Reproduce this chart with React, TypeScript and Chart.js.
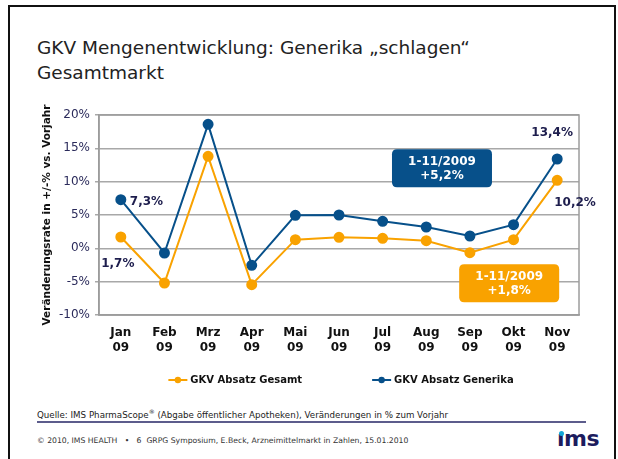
import React, { useEffect, useRef } from "react";
import { Chart, registerables } from "chart.js";

Chart.register(...registerables);

// ---- data ----
const months = ["Jan", "Feb", "Mrz", "Apr", "Mai", "Jun", "Jul", "Aug", "Sep", "Okt", "Nov"];
const yearLabel = "09";
const gesamt = [1.7, -5.2, 13.8, -5.45, 1.3, 1.65, 1.5, 1.15, -0.65, 1.3, 10.2];
const generika = [7.3, -0.7, 18.6, -2.55, 4.95, 5.0, 4.05, 3.2, 1.85, 3.55, 13.4];
const seriesNames = ["GKV Absatz Gesamt", "GKV Absatz Generika"];
const yMin = -10;
const yMax = 20;
const yStep = 5;
const yTitle = "Veränderungsrate in +/-% vs. Vorjahr";
const pointLabelTexts = ["7,3%", "1,7%", "13,4%", "10,2%"];
const summaryTexts = [
  ["1-11/2009", "+5,2%"],
  ["1-11/2009", "+1,8%"],
];

// ---- styles / annotation placement ----
const BLUE = "#07508a";
const ORANGE = "#f9a200";
const NAVY_TEXT = "#1d1d4d";
const FONT = '"DejaVu Sans", Verdana, sans-serif';

const pointLabelCfg = [
  { ds: 1, i: 0, dx: 9, dy: 2, align: "left" },
  { ds: 0, i: 0, dx: -3, dy: 27, align: "center" },
  { ds: 1, i: 10, dx: -5, dy: -26, align: "center" },
  { ds: 0, i: 10, dx: -3, dy: 23, align: "left" },
];
const summaryCfg = [
  { x: 7.36, y: 12.0, w: 100, h: 38, color: BLUE },
  { x: 8.9, y: -5.25, w: 100, h: 38, color: ORANGE },
];

const framePlugin = {
  id: "frame",
  beforeDatasetsDraw(chart: any) {
    const { ctx, chartArea: a } = chart;
    ctx.save();
    ctx.strokeStyle = "#9c9c9c";
    ctx.lineWidth = 1.5;
    ctx.strokeRect(a.left, a.top, a.right - a.left, a.bottom - a.top);
    ctx.restore();
  },
};

const roundRect = (ctx: any, x: number, y: number, w: number, h: number, r: number) => {
  ctx.beginPath();
  ctx.moveTo(x + r, y);
  ctx.lineTo(x + w - r, y);
  ctx.quadraticCurveTo(x + w, y, x + w, y + r);
  ctx.lineTo(x + w, y + h - r);
  ctx.quadraticCurveTo(x + w, y + h, x + w - r, y + h);
  ctx.lineTo(x + r, y + h);
  ctx.quadraticCurveTo(x, y + h, x, y + h - r);
  ctx.lineTo(x, y + r);
  ctx.quadraticCurveTo(x, y, x + r, y);
  ctx.closePath();
};

const annotationPlugin = {
  id: "annotations",
  afterDatasetsDraw(chart: any) {
    const { ctx } = chart;
    const xs = chart.scales.x;
    const ys = chart.scales.y;
    ctx.save();
    ctx.font = `bold 12px ${FONT}`;
    ctx.fillStyle = NAVY_TEXT;
    ctx.textBaseline = "middle";
    pointLabelCfg.forEach((c, k) => {
      const el = chart.getDatasetMeta(c.ds).data[c.i];
      ctx.textAlign = c.align;
      ctx.fillText(pointLabelTexts[k], el.x + c.dx, el.y + c.dy);
    });
    summaryCfg.forEach((b, k) => {
      const cx = xs.getPixelForValue(b.x);
      const cy = ys.getPixelForValue(b.y);
      ctx.fillStyle = b.color;
      roundRect(ctx, cx - b.w / 2, cy - b.h / 2, b.w, b.h, 5);
      ctx.fill();
      ctx.fillStyle = "#ffffff";
      ctx.textAlign = "center";
      ctx.font = `bold 12px ${FONT}`;
      ctx.fillText(summaryTexts[k][0], cx, cy - 6);
      ctx.fillText(summaryTexts[k][1], cx, cy + 8);
    });
    ctx.restore();
  },
};

const legendPlugin = {
  id: "customLegend",
  afterDraw(chart: any) {
    const { ctx, chartArea: a } = chart;
    ctx.save();
    ctx.font = `bold 10px ${FONT}`;
    const markerW = 19;
    const textGap = 3;
    const itemGap = 70;
    const items = chart.data.datasets.map((ds: any) => ({
      label: ds.label,
      color: ds.borderColor,
      w: ctx.measureText(ds.label).width,
    }));
    const total =
      items.reduce((s: number, it: any) => s + markerW + textGap + it.w, 0) + itemGap * (items.length - 1);
    let x = (a.left + a.right) / 2 - total / 2 + 2;
    const y = a.bottom + 65;
    items.forEach((it: any) => {
      ctx.strokeStyle = it.color;
      ctx.lineWidth = 2;
      ctx.beginPath();
      ctx.moveTo(x, y);
      ctx.lineTo(x + markerW, y);
      ctx.stroke();
      ctx.fillStyle = it.color;
      ctx.beginPath();
      ctx.arc(x + markerW / 2, y, 3.2, 0, Math.PI * 2);
      ctx.fill();
      ctx.fillStyle = "#111111";
      ctx.textAlign = "left";
      ctx.textBaseline = "middle";
      ctx.fillText(it.label, x + markerW + textGap, y);
      x += markerW + textGap + it.w + itemGap;
    });
    ctx.restore();
  },
};

function ChartCanvas() {
  const ref = useRef<HTMLCanvasElement | null>(null);
  useEffect(() => {
    if (!ref.current) return;
    const chart = new Chart(ref.current, {
      type: "line",
      data: {
        labels: months.map((m) => [m, yearLabel]),
        datasets: [
          {
            label: seriesNames[0],
            data: gesamt,
            borderColor: ORANGE,
            backgroundColor: ORANGE,
            pointBackgroundColor: ORANGE,
            pointBorderColor: ORANGE,
            borderWidth: 2,
            pointRadius: 4.5,
            tension: 0,
          },
          {
            label: seriesNames[1],
            data: generika,
            borderColor: BLUE,
            backgroundColor: BLUE,
            pointBackgroundColor: BLUE,
            pointBorderColor: BLUE,
            borderWidth: 2,
            pointRadius: 4.5,
            tension: 0,
          },
        ],
      },
      options: {
        responsive: false,
        animation: false,
        layout: { padding: { top: 15, right: 31, left: 0, bottom: 35 } },
        plugins: {
          legend: { display: false },
          tooltip: { enabled: false },
        },
        scales: {
          x: {
            offset: true,
            grid: { display: false, drawTicks: false },
            border: { display: true, color: "#9c9c9c", width: 1.5 },
            ticks: {
              color: "#111111",
              padding: 10,
              maxRotation: 0,
              autoSkip: false,
              font: { family: FONT, size: 12, weight: "bold", lineHeight: 1.25 },
            },
            afterFit(scale: any) {
              scale.height = 50;
            },
          },
          y: {
            min: yMin,
            max: yMax,
            ticks: {
              stepSize: yStep,
              color: "#2b2b5b",
              padding: 5,
              font: { family: FONT, size: 12 },
              callback: (v: any) => `${v}%`,
            },
            grid: { color: "#a8a8a8", lineWidth: 1.5, tickLength: 4, drawTicks: true },
            border: { display: true, color: "#9c9c9c", width: 1.5 },
            title: {
              display: true,
              text: yTitle,
              color: "#111111",
              font: { family: FONT, size: 10.5, weight: "bold" },
              padding: { top: 21, bottom: 0 },
            },
            afterFit(scale: any) {
              scale.width = 79;
            },
          },
        },
      },
      plugins: [framePlugin, annotationPlugin, legendPlugin],
    } as any);
    return () => chart.destroy();
  }, []);
  return <canvas ref={ref} width={590} height={300} style={{ display: "block" }} />;
}

export default function App() {
  return (
    <div>
      <div
        style={{
          position: "absolute",
          left: 8,
          top: 5,
          width: 608,
          height: 470,
          boxSizing: "border-box",
          border: "2.5px solid #111",
          background: "#fff",
        }}
      />
      <div
        style={{
          position: "absolute",
          left: 37,
          top: 35,
          fontFamily: FONT,
          fontSize: 18.5,
          lineHeight: "25px",
          color: "#222",
          whiteSpace: "nowrap",
        }}
      >
        GKV Mengenentwicklung: Generika „schlagen“
        <br />
        Gesamtmarkt
      </div>
      <div style={{ position: "absolute", left: 20, top: 100, width: 590, height: 300 }}>
        <ChartCanvas />
      </div>
      <div
        style={{
          position: "absolute",
          left: 37,
          top: 408,
          fontFamily: FONT,
          fontSize: 8.7,
          lineHeight: "14px",
          color: "#222",
          whiteSpace: "nowrap",
        }}
      >
        Quelle: IMS PharmaScope<sup style={{ fontSize: 6, lineHeight: 0 }}>®</sup> (Abgabe öffentlicher Apotheken),
        Veränderungen in % zum Vorjahr
      </div>
      <div style={{ position: "absolute", left: 37, top: 421, width: 549, height: 2, background: "#5c5c8c" }} />
      <div
        style={{
          position: "absolute",
          left: 37,
          top: 435,
          fontFamily: FONT,
          fontSize: 7.7,
          lineHeight: "12px",
          color: "#333",
          whiteSpace: "pre",
        }}
      >
        {"© 2010, IMS HEALTH   •   6  GRPG Symposium, E.Beck, Arzneimittelmarkt in Zahlen, 15.01.2010"}
      </div>
      <div
        style={{
          position: "absolute",
          left: 557,
          top: 427,
          fontFamily: FONT,
          fontWeight: "bold",
          fontSize: 22,
          lineHeight: "24px",
          color: "#1c1c5e",
          letterSpacing: -0.5,
        }}
      >
        ıms
      </div>
      <div
        style={{
          position: "absolute",
          left: 559,
          top: 431,
          width: 5,
          height: 5,
          borderRadius: "50%",
          background: "#12a6d8",
        }}
      />
    </div>
  );
}
